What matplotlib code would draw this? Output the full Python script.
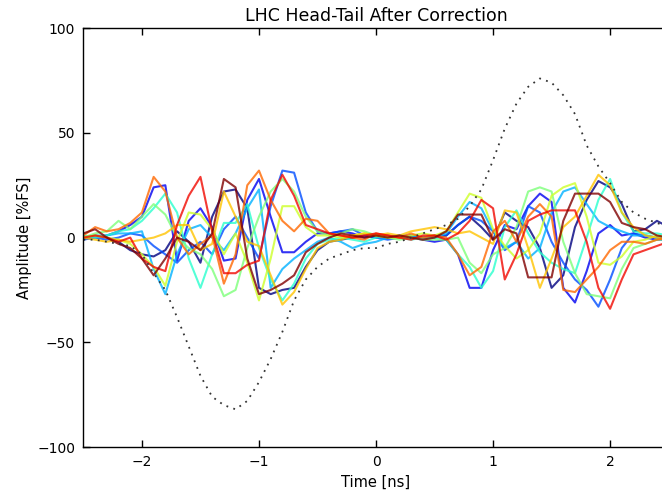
import numpy as np
import matplotlib
matplotlib.use("Agg")
import matplotlib.pyplot as plt

# time axis, 0.1 ns sampling
t_ns = np.round(np.arange(-2.5, 2.51, 0.1), 2)

# head-tail traces after correction (amplitude, %FS), one per turn
trace_navy = [0, 1, 0, -2, -6, -8, -9, -6, 3, -2,
              -12, 10, 22, 23, 14, -24, -27, -25, -24, -14,
              -6, -2, -1, 0, 1, 0, 1, 0, 1, 0,
              1, 1, 6, 10, 5, -1, 12, 8, 5, -5,
              -24, -18, 5, 18, 27, 24, 16, 3, 4, 8, 5]
trace_blue = [0, 0, 1, 3, 6, 10, 24, 25, -11, 8,
              14, 5, -11, -10, 18, 28, 10, -7, -7, -2,
              2, 2, 3, 2, 0, 1, 0, 1, 0, -1,
              -2, -1, -8, -24, -24, -6, 6, 4, 15, 21,
              17, -24, -31, -16, 2, 6, 1, 2, 0, -1, -1]
trace_azure = [-1, 0, -1, 0, 2, 1, -4, -8, -12, -6,
               -2, -8, 4, 10, 0, -10, 15, 32, 31, 12,
               3, 2, 3, 4, 1, 0, -1, 0, 0, 0,
               0, 1, 6, 10, 8, 3, -6, -2, 15, 12,
               -2, -12, -20, -25, -33, -20, -5, 2, 1, 0, -2]
trace_lightblue = [0, 1, 1, 2, 2, 3, -15, -27, -8, 4,
                   6, 0, -6, 2, 14, 23, -24, -15, -10, -6,
                   -2, 0, -2, -5, -3, -2, 0, 1, 1, 0,
                   0, 2, 10, 17, 14, 3, -5, -2, -10, -5,
                   12, 22, 24, 16, 8, 5, 3, 1, 1, 0, 0]
trace_turquoise = [1, 0, 1, 3, 4, 8, 14, 21, 12, -10,
                   -24, -8, 7, 7, 16, -5, -20, -30, -22, -10,
                   -3, -1, 0, -1, -2, 0, 1, 0, -1, 0,
                   0, -1, -8, -14, -24, -16, 5, 13, 2, -7,
                   -12, -15, -17, 0, 18, 28, 12, 3, 2, 2, 1]
trace_green = [0, 2, 3, 8, 4, 10, 16, 11, 0, -5,
               -8, -15, -28, -25, -5, 10, 22, 28, 22, 10,
               3, 1, 2, 4, 3, 1, 0, -1, 0, -1,
               -1, -1, 0, -12, -17, -8, -5, 5, 22, 24,
               22, -2, -17, -27, -28, -29, -15, -5, -3, -1, -1]
trace_yellowgreen = [0, 1, 0, -1, -3, -8, -14, -23, -2, 12,
                     11, 4, -8, 2, -12, -30, -10, 15, 15, 5,
                     1, 1, 0, 1, 2, 1, 0, 0, 1, 2,
                     1, 3, 12, 21, 19, 4, -4, -10, -6, 2,
                     20, 24, 26, 10, -12, -13, -9, -2, -1, 1, 0]
trace_gold = [0, -1, -2, -1, -2, -1, 0, 2, 6, 6,
              -6, -3, 22, 10, -2, -4, -18, -32, -26, -15,
              -5, -2, -1, 1, 2, 1, 2, 1, 3, 4,
              5, 4, 2, 3, 0, -3, 13, 12, -5, -24,
              -10, 5, 10, 20, 30, 25, 12, 5, 1, 0, -1]
trace_orange = [1, 5, 3, 4, 7, 12, 29, 22, 0, -8,
                -3, 1, -22, -8, 25, 32, 18, 8, 3, 9,
                8, 2, 1, 0, -1, 2, 1, 0, 2, 0,
                1, 0, -8, -18, -14, 3, 8, -2, 10, 16,
                10, -25, -26, -20, -14, -6, -2, -2, -3, -1, 0]
trace_red = [0, 1, 0, -2, 0, -10, -14, -16, 6, 20,
             29, 3, -17, -17, -13, -11, 18, 30, 20, 6,
             4, 2, 1, 0, 1, 2, 1, 0, -1, 1,
             1, -1, 2, 8, 18, 14, -20, -8, 8, 11,
             13, 13, 13, -2, -24, -34, -20, -8, -6, -4, -2]
trace_maroon = [2, 4, 0, -3, -5, -10, -18, -10, 0, -2,
                -6, 2, 28, 24, -10, -27, -25, -22, -18, -7,
                -3, 0, 2, 1, 0, 1, 0, 1, 0, -1,
                0, 3, 11, 11, 11, -1, 4, 2, -19, -19,
                -19, 8, 21, 21, 21, 17, 7, 5, 4, 1, 0]

# reference (difference) signal, dotted
delta_signal = [-1, -1, -2, -3, -4, -8, -17, -25, -38, -52,
                -66, -76, -80, -82, -78, -69, -58, -45, -30, -20,
                -14, -10, -8, -6, -5, -5, -3, -2, 0, 2,
                4, 6, 9, 15, 23, 37, 52, 64, 72, 76,
                74, 68, 59, 44, 34, 26, 17, 12, 9, 7, 5]

traces = [trace_navy, trace_blue, trace_azure, trace_lightblue, trace_turquoise,
          trace_green, trace_yellowgreen, trace_gold, trace_orange, trace_red,
          trace_maroon]

plt.rcParams['font.family'] = 'DejaVu Sans'
fig = plt.figure(figsize=(6.62, 4.91), dpi=100)
ax = fig.add_axes([0.126, 0.0896, 0.884, 0.853])

colors = plt.cm.jet(np.linspace(0, 1, len(traces)))
for tr, c in zip(traces, colors):
    ax.plot(t_ns, tr, '-', color=c, lw=1.5, alpha=0.8)

# dotted overlay, small sparse dots like the original
ax.plot(t_ns, delta_signal, color='#333333', lw=1.3, linestyle=(0, (1, 3)))

ax.set_xlim(-2.5, 2.5)
ax.set_ylim(-100, 100)
ax.set_xticks([-2, -1, 0, 1, 2])
ax.set_yticks([-100, -50, 0, 50, 100])
ax.tick_params(direction='in', top=True, right=True, length=5, width=1,
               labelsize=10, pad=6)
for s in ax.spines.values():
    s.set_linewidth(1.0)

ax.set_title("LHC Head-Tail After Correction", fontsize=12.5, pad=5)
ax.set_xlabel("Time [ns]", fontsize=10.5)
ax.set_ylabel("Amplitude [%FS]", fontsize=10.5)

fig.savefig("out.png", dpi=100, facecolor='white')
